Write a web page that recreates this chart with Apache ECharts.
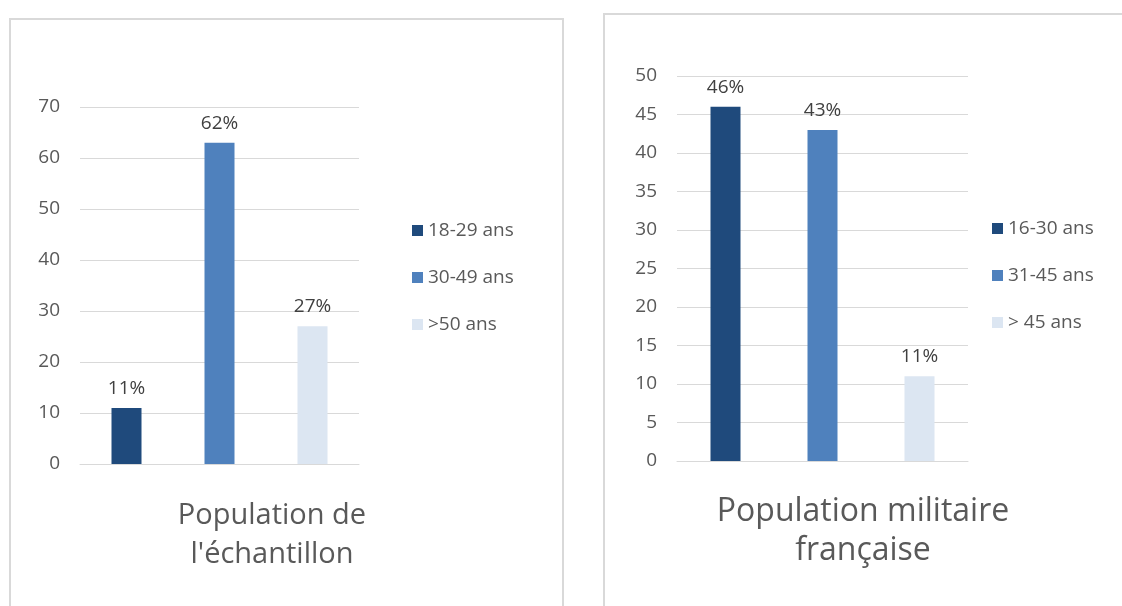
<!DOCTYPE html>
<html>
<head>
<meta charset="utf-8">
<script src="https://cdn.jsdelivr.net/npm/echarts@6/dist/echarts.min.js"></script>
<style>
  html, body { margin: 0; padding: 0; background: #fff; overflow: hidden; }
  .panel { position: absolute; border: 2px solid #d9d9d9; background: #fff; }
  #left { left: 9px; top: 18px; width: 551px; height: 640px; }
  #right { left: 603px; top: 13px; width: 560px; height: 640px; }
</style>
</head>
<body>
<div id="left" class="panel"></div>
<div id="right" class="panel"></div>
<script>
// echantillon
var sampleCats = ['18-29 ans', '30-49 ans', '>50 ans'];
var sampleValues = [11, 63, 27];
var sampleLabels = ['11%', '62%', '27%'];
// population militaire
var armyCats = ['16-30 ans', '31-45 ans', '> 45 ans'];
var armyValues = [46, 43, 11];
var armyLabels = ['46%', '43%', '11%'];

var colors = ['#1f4a7c', '#4f81bd', '#dce6f2'];
var gray = '#595959';
var font = 'Open Sans';

function buildSeries(cats, values, labels) {
  // one series per category, stacked so they sit in the same slot
  return cats.map(function (name, i) {
    var data = cats.map(function (c, j) { return j === i ? values[i] : '-'; });
    return {
      name: name,
      type: 'bar',
      stack: 'all',
      barWidth: 30,
      data: data,
      itemStyle: { color: colors[i] },
      label: {
        show: true,
        position: 'top',
        distance: 10,
        color: '#404040',
        fontSize: 19,
        fontFamily: font,
        formatter: function () { return labels[i]; }
      }
    };
  });
}

function makeOption(cfg) {
  return {
    animation: false,
    textStyle: { fontFamily: font },
    title: {
      text: cfg.title,
      left: cfg.titleX,
      top: cfg.titleY,
      padding: 0,
      textAlign: 'center',
      textStyle: { fontFamily: font, fontSize: cfg.titleSize, fontWeight: 'normal', color: gray, lineHeight: 39 }
    },
    legend: {
      orient: 'vertical',
      left: cfg.legendX,
      top: cfg.legendY,
      padding: 0,
      itemWidth: 11,
      itemHeight: 11,
      itemGap: 28,
      icon: 'rect',
      textStyle: { fontSize: 19, color: gray, fontFamily: font },
      data: cfg.cats
    },
    grid: { left: cfg.gridX, top: cfg.gridY, width: cfg.gridW, height: cfg.gridH },
    xAxis: {
      type: 'category',
      data: cfg.cats,
      axisLine: { lineStyle: { color: '#d9d9d9' } },
      axisTick: { show: false },
      axisLabel: { show: false }
    },
    yAxis: {
      type: 'value',
      min: 0,
      max: cfg.max,
      interval: cfg.step,
      axisLabel: { fontSize: 19, color: gray, margin: 20, fontFamily: font },
      splitLine: { lineStyle: { color: '#d9d9d9' } }
    },
    series: buildSeries(cfg.cats, cfg.values, cfg.labels)
  };
}

var leftChart = echarts.init(document.getElementById('left'));
leftChart.setOption(makeOption({
  title: "Population de\nl'échantillon",
  titleX: 261, titleY: 476, titleSize: 29,
  legendX: 401, legendY: 201,
  gridX: 69, gridY: 87, gridW: 279, gridH: 357,
  max: 70, step: 10,
  cats: sampleCats, values: sampleValues, labels: sampleLabels
}));

var rightChart = echarts.init(document.getElementById('right'));
rightChart.setOption(makeOption({
  title: 'Population militaire\nfrançaise',
  titleX: 258, titleY: 477, titleSize: 32,
  legendX: 387, legendY: 204,
  gridX: 72, gridY: 61, gridW: 291, gridH: 385,
  max: 50, step: 5,
  cats: armyCats, values: armyValues, labels: armyLabels
}));
</script>
</body>
</html>
